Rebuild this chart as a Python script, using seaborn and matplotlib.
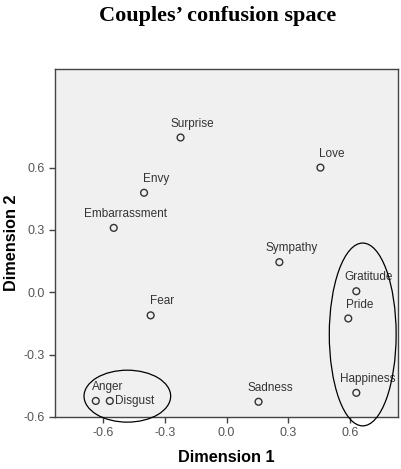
import numpy as np
import pandas as pd
import matplotlib.pyplot as plt
import seaborn as sns
from matplotlib.patches import Ellipse

# 감정 좌표
emotions = ['Surprise', 'Envy', 'Embarrassment', 'Love', 'Sympathy', 'Fear',
            'Anger', 'Disgust', 'Gratitude', 'Pride', 'Happiness', 'Sadness']
dim1 = [-0.223, -0.400, -0.547, 0.455, 0.256, -0.368,
        -0.634, -0.566, 0.629, 0.590, 0.629, 0.155]
dim2 = [0.745, 0.479, 0.310, 0.600, 0.145, -0.111,
        -0.523, -0.523, 0.005, -0.126, -0.484, -0.527]
xticks = [-0.6, -0.3, 0.0, 0.3, 0.6]
yticks = [-0.6, -0.3, 0.0, 0.3, 0.6]

df = pd.DataFrame({'emotion': emotions, 'dim1': dim1, 'dim2': dim2})

sns.set_style('white')
plt.rcParams['font.family'] = ['Liberation Sans', 'DejaVu Sans']

fig = plt.figure(figsize=(4.01, 4.69), dpi=100)
ax = fig.add_axes([0.137, 0.111, 0.856, 0.742])
ax.set_facecolor('#f0f0f0')

sns.scatterplot(data=df, x='dim1', y='dim2', ax=ax, marker='o', s=24,
                fc='none', ec='#333333', linewidth=1.0, zorder=3)

for e, x, y in zip(emotions, dim1, dim2):
    if e == 'Disgust':
        ax.annotate(e, (x, y), xytext=(3.5, 0), textcoords='offset points',
                    ha='left', va='center', fontsize=8.5, color='#333333')
    else:
        ax.annotate(e, (x, y), xytext=(8.5, 10), textcoords='offset points',
                    ha='center', va='center', fontsize=8.5, color='#333333')

# 군집 타원
ax.add_patch(Ellipse((-0.481, -0.50), 0.42, 0.25, fill=False, ec='black',
                     lw=0.9, clip_on=False, zorder=4))
ax.add_patch(Ellipse((0.66, -0.203), 0.324, 0.88, fill=False, ec='black',
                     lw=0.9, clip_on=False, zorder=4))

ax.set_xlim(-0.832, 0.832)
ax.set_ylim(-0.6, 1.075)
ax.set_xticks(xticks)
ax.set_yticks(yticks)
ax.set_xticklabels([f'{t:.1f}' for t in xticks])
ax.set_yticklabels([f'{t:.1f}' for t in yticks])
ax.tick_params(direction='out', length=4, width=1, color='#444444',
               labelsize=9, labelcolor='#555555', left=True, bottom=True)
for s in ax.spines.values():
    s.set_color('#444444')
    s.set_linewidth(1.0)

ax.set_xlabel('Dimension 1', fontsize=11.7, fontweight='bold', labelpad=8,
              color='black')
ax.set_ylabel('Dimension 2', fontsize=11.7, fontweight='bold', labelpad=3,
              color='black')

fig.text(0.543, 0.966, 'Couples\u2019 confusion space', ha='center', va='center',
         fontsize=16, fontweight='bold', color='black',
         family=['Liberation Serif', 'DejaVu Serif'])

fig.savefig('out.png', dpi=100)
